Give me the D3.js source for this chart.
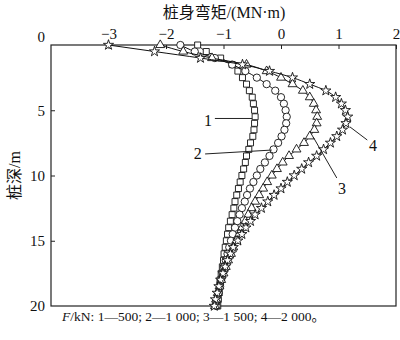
<!DOCTYPE html>
<html>
<head>
<meta charset="utf-8">
<script src="https://cdn.jsdelivr.net/npm/d3@7/dist/d3.min.js"></script>
<style>
  html, body { margin: 0; padding: 0; background: #fff; }
  svg { display: block; }
  text { font-family: "Liberation Serif", "Noto Sans CJK SC", serif; fill: #111; }
</style>
</head>
<body>
<svg id="chart" width="400" height="340"></svg>
<script>
// ---- data ----
const depths = [0,0.5,1,1.5,2,2.5,3,3.5,4,4.5,5,5.5,6,6.5,7,7.5,8,8.5,9,9.5,10,10.5,11,11.5,12,12.5,13,13.5,14,14.5,15,15.5,16,16.5,17,17.5,18,18.5,19,19.5,20];
const moment500  = [-1.45,-1.3,-1.05,-0.85,-0.75,-0.67,-0.6,-0.55,-0.5,-0.48,-0.46,-0.45,-0.46,-0.47,-0.49,-0.53,-0.56,-0.6,-0.62,-0.65,-0.68,-0.71,-0.74,-0.77,-0.8,-0.82,-0.85,-0.88,-0.91,-0.93,-0.95,-0.97,-0.99,-1.0,-1.02,-1.04,-1.06,-1.07,-1.08,-1.09,-1.1];
const moment1000 = [-1.75,-1.5,-1.15,-0.85,-0.62,-0.42,-0.25,-0.1,0.0,0.05,0.08,0.1,0.09,0.06,0.01,-0.05,-0.13,-0.2,-0.28,-0.36,-0.42,-0.48,-0.54,-0.59,-0.63,-0.68,-0.72,-0.76,-0.8,-0.84,-0.87,-0.9,-0.93,-0.96,-0.99,-1.01,-1.04,-1.06,-1.08,-1.1,-1.12];
const moment1500 = [-2.1,-1.7,-1.2,-0.6,-0.25,0.0,0.2,0.38,0.5,0.57,0.61,0.63,0.62,0.58,0.5,0.4,0.27,0.14,0.03,-0.07,-0.16,-0.24,-0.31,-0.38,-0.45,-0.51,-0.57,-0.62,-0.68,-0.73,-0.78,-0.83,-0.87,-0.92,-0.96,-1.0,-1.04,-1.07,-1.1,-1.13,-1.15];
const moment2000 = [-3.0,-2.2,-1.4,-0.67,-0.2,0.2,0.5,0.78,0.95,1.05,1.12,1.16,1.13,1.07,0.97,0.86,0.74,0.62,0.48,0.36,0.23,0.11,0.0,-0.12,-0.23,-0.34,-0.45,-0.53,-0.61,-0.68,-0.75,-0.83,-0.88,-0.93,-0.97,-1.01,-1.05,-1.08,-1.11,-1.14,-1.16];
const seriesLabels = ["1","2","3","4"];
const xTicks = [-3,-2,-1,0,1,2];
const yTicks = [0,5,10,15,20];
const xTitle = "桩身弯矩/(MN·m)";
const yTitle = "桩深/m";

// ---- layout ----
const svg = d3.select("#chart");
const x = d3.scaleLinear().domain([-4, 2]).range([51, 396]);
const y = d3.scaleLinear().domain([0, 20]).range([45, 306]);

const series = [
  { values: moment500,  symbol: d3.symbolSquare,   size: 36 },
  { values: moment1000, symbol: d3.symbolCircle,   size: 42 },
  { values: moment1500, symbol: d3.symbolTriangle, size: 34 },
  { values: moment2000, symbol: d3.symbolStar,     size: 32 }
];

// annotation leader lines in data coords
const annotations = [
  { label: seriesLabels[0], tx: -1.27, ty: 5.75, l: [[-1.15, 5.63], [-0.5, 5.63]] },
  { label: seriesLabels[1], tx: -1.45, ty: 8.3,  l: [[-1.32, 8.35], [-0.16, 8.05]] },
  { label: seriesLabels[2], tx: 1.06,  ty: 11.0, l: [[0.56, 7.05], [0.97, 10.19]] },
  { label: seriesLabels[3], tx: 1.6,   ty: 7.7,  l: [[1.2, 6.28], [1.5, 7.28]] }
];

// frame
svg.append("rect")
  .attr("x", x(-4)).attr("y", y(0))
  .attr("width", x(2) - x(-4)).attr("height", y(20) - y(0))
  .attr("fill", "none").attr("stroke", "#222").attr("stroke-width", 1.2);

const fmt = d => (d < 0 ? "\u2212" + Math.abs(d) : String(d));

// top axis
const gx = svg.append("g").attr("transform", `translate(0,${y(0)})`)
  .call(d3.axisTop(x).tickValues(xTicks).tickSizeInner(-4).tickSizeOuter(0).tickPadding(6).tickFormat(fmt));
gx.select(".domain").remove();
gx.selectAll("text").style("font-size", "15px").style("font-family", "Liberation Serif");
gx.selectAll("line").attr("stroke", "#222");

// left axis
const gy = svg.append("g").attr("transform", `translate(${x(-4)},0)`)
  .call(d3.axisLeft(y).tickValues(yTicks).tickSizeInner(-4).tickSizeOuter(0).tickPadding(6));
gy.select(".domain").remove();
gy.selectAll("text").style("font-size", "15px").style("font-family", "Liberation Serif");
gy.selectAll("line").attr("stroke", "#222");
gy.selectAll(".tick").filter(d => d === 0).select("text").attr("dy", "-0.25em");
gy.selectAll(".tick").filter(d => d === 0 || d === 20).select("line").remove();

// titles
svg.append("text").attr("x", 224).attr("y", 18).attr("text-anchor", "middle")
  .style("font-size", "16px").text(xTitle);
svg.append("text").attr("transform", `translate(20,${(y(0) + y(20)) / 2}) rotate(-90)`)
  .attr("text-anchor", "middle").style("font-size", "16px").text(yTitle);

// curves
const line = d3.line().x(d => x(d[0])).y(d => y(d[1])).curve(d3.curveMonotoneY);
series.forEach(s => {
  const pts = s.values.map((v, i) => [v, depths[i]]);
  svg.append("path").datum(pts).attr("d", line)
    .attr("fill", "none").attr("stroke", "#111").attr("stroke-width", 1);
  svg.append("g").selectAll("path").data(pts).join("path")
    .attr("transform", d => `translate(${x(d[0])},${y(d[1])})`)
    .attr("d", d3.symbol().type(s.symbol).size(s.size))
    .attr("fill", "#fff").attr("stroke", "#111").attr("stroke-width", 0.9);
});

// annotations
annotations.forEach(a => {
  svg.append("line")
    .attr("x1", x(a.l[0][0])).attr("y1", y(a.l[0][1]))
    .attr("x2", x(a.l[1][0])).attr("y2", y(a.l[1][1]))
    .attr("stroke", "#222").attr("stroke-width", 1);
  svg.append("text").attr("x", x(a.tx)).attr("y", y(a.ty)).attr("dy", "0.35em")
    .attr("text-anchor", "middle").style("font-size", "16px").text(a.label);
});

// note
const note = svg.append("text").attr("x", 62).attr("y", 321).style("font-size", "13.5px");
note.append("tspan").style("font-style", "italic").text("F");
note.append("tspan").text("/kN: 1\u2014500; 2\u20141 000; 3\u20141 500; 4\u20142 000\u3002");
</script>
</body>
</html>
